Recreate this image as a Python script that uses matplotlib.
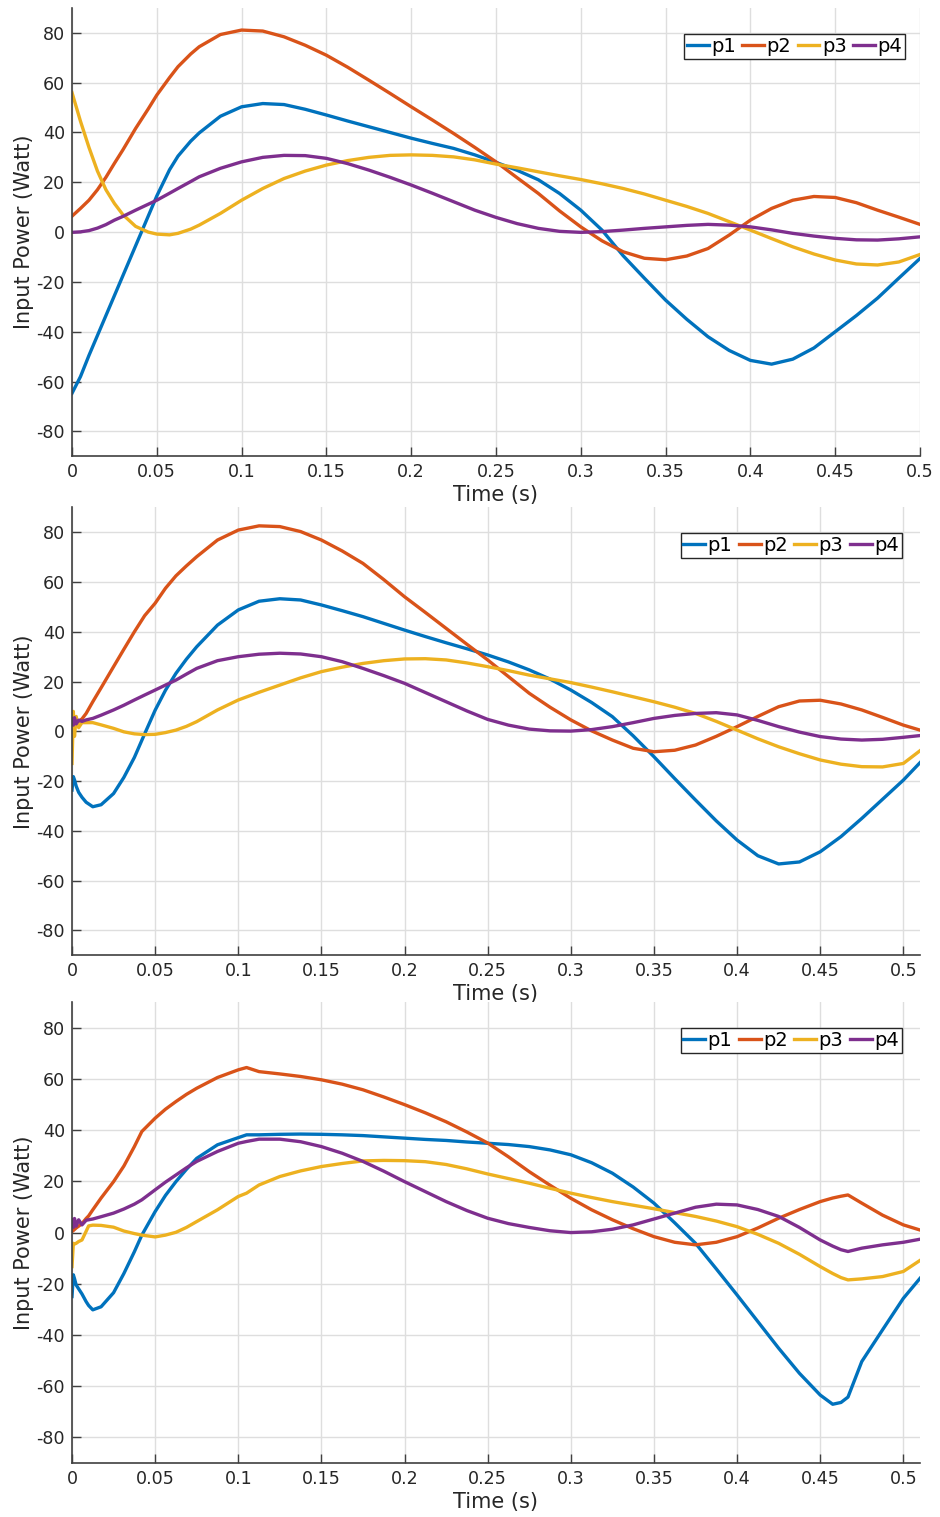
import numpy as np
import matplotlib
matplotlib.use('Agg')
import matplotlib.pyplot as plt
from matplotlib.ticker import FuncFormatter

plt.rcParams['font.family'] = ['DejaVu Sans']
plt.rcParams['axes.unicode_minus'] = False

labels = ['p1', 'p2', 'p3', 'p4']
colors = ['#0072BD', '#D95319', '#EDB120', '#7E2F8E']

# ---- plot 1 ----
t1 = [0, 0.005, 0.01, 0.015, 0.02, 0.025, 0.03, 0.0375, 0.045, 0.05, 0.0575, 0.0625, 0.07, 0.075,
      0.0875, 0.1, 0.1125, 0.125, 0.1375, 0.15, 0.1625, 0.175, 0.1875, 0.2, 0.2125, 0.225, 0.2375,
      0.25, 0.2625, 0.275, 0.2875, 0.3, 0.3125, 0.325, 0.3375, 0.35, 0.3625, 0.375, 0.3875, 0.4,
      0.4125, 0.425, 0.4375, 0.45, 0.4625, 0.475, 0.4875, 0.5]
p1_a = [-64.7, -58, -49.5, -41.5, -33.5, -25.5, -17.5, -5.5, 6.5, 14.5, 25, 30.5, 36.5, 39.8,
        46.5, 50.3, 51.6, 51.2, 49.3, 47, 44.6, 42.3, 40, 37.7, 35.6, 33.6, 31,
        28, 24.8, 21, 15.5, 8.8, 0.8, -9.5, -18.5, -27.3, -35, -42, -47.5, -51.5,
        -53, -51, -46.5, -40, -33.5, -26.5, -18.5, -10.6]
p2_a = [6.4, 9.5, 12.8, 17, 22, 27.6, 33, 41.6, 49.5, 55, 62, 66.4, 71.5, 74.4,
        79.3, 81.1, 80.7, 78.4, 75, 71, 66.2, 61, 55.7, 50.3, 45, 39.6, 34,
        28.2, 21.8, 15.5, 8.5, 2.1, -3.5, -7.9, -10.5, -11.1, -9.6, -6.6, -1.2, 4.8,
        9.5, 12.8, 14.3, 13.9, 11.8, 8.8, 6, 3.1]
p3_a = [56, 44.5, 34, 24.5, 17, 11.5, 7, 2.3, 0, -0.8, -1.1, -0.5, 1.2, 2.8,
        7.5, 12.8, 17.5, 21.5, 24.5, 26.9, 28.7, 30, 30.8, 31, 30.8, 30.2, 29,
        27.3, 25.8, 24.2, 22.6, 21.1, 19.4, 17.5, 15.3, 12.8, 10.3, 7.5, 4.2, 0.8,
        -2.6, -5.9, -8.8, -11.2, -12.8, -13.2, -12, -9]
p4_a = [-0.1, 0.1, 0.6, 1.6, 3, 4.8, 6.3, 8.8, 11.2, 12.8, 15.6, 17.5, 20.3, 22.2,
        25.6, 28.2, 30, 30.8, 30.7, 29.6, 27.5, 24.9, 22, 18.9, 15.6, 12.2, 8.8,
        5.9, 3.4, 1.5, 0.3, -0.1, 0.2, 0.8, 1.5, 2.1, 2.7, 3.1, 2.8, 2.1,
        0.9, -0.5, -1.6, -2.5, -3.1, -3.2, -2.7, -1.9]

# ---- plot 2 ----
t2 = [0, 0.0008, 0.0015, 0.0025, 0.004, 0.006, 0.0085, 0.0125, 0.0175, 0.025, 0.0312, 0.0375,
      0.0437, 0.05, 0.0562, 0.0625, 0.0688, 0.075,
      0.0875, 0.1, 0.1125, 0.125, 0.1375, 0.15, 0.1625, 0.175, 0.1875, 0.2, 0.2125, 0.225, 0.2375,
      0.25, 0.2625, 0.275, 0.2875, 0.3, 0.3125, 0.325, 0.3375, 0.35, 0.3625, 0.375, 0.3875, 0.4,
      0.4125, 0.425, 0.4375, 0.45, 0.4625, 0.475, 0.4875, 0.5, 0.51]
p1_b = [-23.6, -18.2, -19.5, -22, -24.5, -26.5, -28.5, -30.3, -29.5, -25, -18.5, -10.5,
        -1, 8.5, 16.5, 23.3, 29, 34,
        42.7, 48.8, 52.3, 53.3, 52.8, 50.8, 48.5, 46.1, 43.4, 40.7, 38.1, 35.6, 33.2,
        30.7, 27.9, 24.7, 21, 16.6, 11.6, 5.9, -1.8, -10.2, -19, -27.6, -36, -43.7,
        -50, -53.3, -52.5, -48.4, -42.3, -35, -27.3, -19.6, -12.6]
p2_b = [1.9, 2.5, 3, 3.5, 4, 5, 7.2, 11.9, 17.5, 26, 33, 40,
        46.5, 51.5, 57.5, 62.5, 66.5, 70.2,
        76.9, 80.9, 82.6, 82.3, 80.3, 76.9, 72.5, 67.5, 61, 54.1, 47.8, 41.4, 35,
        28.7, 22, 15.3, 9.7, 4.6, 0.2, -3.5, -6.8, -8.2, -7.6, -5.5, -2, 1.9,
        6, 9.9, 12.2, 12.5, 11, 8.6, 5.6, 2.5, 0.5]
p3_b = [-12.9, 8, -2, 6, 1.5, 3.5, 3.5, 3.5, 2.6, 1.2, -0.2, -1,
        -1.3, -1.2, -0.5, 0.5, 2, 3.9,
        8.6, 12.6, 15.7, 18.6, 21.5, 24, 25.8, 27.3, 28.4, 29.1, 29.2, 28.7, 27.5,
        26, 24.4, 22.6, 21.1, 19.6, 17.8, 15.9, 13.9, 11.9, 9.7, 7.2, 4, 0.5,
        -3, -6.2, -9, -11.5, -13.2, -14.2, -14.3, -12.9, -7.8]
p4_b = [5, 2.5, 5.5, 3, 4.5, 4, 4.6, 5.2, 6.5, 8.6, 10.5, 12.6,
        14.6, 16.6, 18.6, 20.6, 23, 25.3,
        28.4, 30, 31, 31.4, 31.1, 30, 28, 25.3, 22.4, 19.3, 15.6, 11.9, 8.2,
        4.8, 2.5, 0.9, 0.2, 0.1, 0.7, 1.9, 3.5, 5.2, 6.4, 7.2, 7.5, 6.6,
        4.4, 1.9, -0.3, -2.1, -3.1, -3.5, -3.2, -2.4, -1.7]

# ---- plot 3 ----
t3 = [0, 0.0008, 0.0015, 0.0025, 0.004, 0.006, 0.0085, 0.01, 0.0125, 0.0175, 0.025, 0.0312,
      0.0375, 0.042, 0.05, 0.0562, 0.0625, 0.0688, 0.075, 0.0875, 0.1, 0.105, 0.1125,
      0.125, 0.1375, 0.15, 0.1625, 0.175, 0.1875, 0.2, 0.2125, 0.225, 0.2375, 0.25, 0.2625,
      0.275, 0.2875, 0.3, 0.3125, 0.325, 0.3375, 0.35, 0.3625, 0.375, 0.3875, 0.4, 0.4125,
      0.425, 0.4375, 0.45, 0.4575, 0.4625, 0.4667, 0.475, 0.4875, 0.5, 0.51]
p1_c = [-25, -16.5, -18, -20.5, -22, -24, -27, -28.5, -30.2, -29, -23.5, -16,
        -7.5, -1, 8.2, 14.5, 19.9, 24.7, 29, 34.3, 37.1, 38.2, 38.2,
        38.4, 38.5, 38.4, 38.2, 37.9, 37.4, 36.9, 36.4, 36, 35.4, 34.9, 34.4,
        33.6, 32.3, 30.4, 27.3, 23.2, 17.8, 11.5, 3.8, -4.2, -14.2, -24.4, -34.8,
        -45.2, -55, -63.5, -67.1, -66.4, -64.3, -50.4, -38, -25.7, -17.9]
p2_c = [0.4, 0.8, 1.2, 1.8, 2.5, 3.5, 5.5, 6.5, 8.9, 13.5, 19.9, 26,
        33.6, 39.5, 44.7, 48.2, 51.2, 54, 56.4, 60.6, 63.6, 64.5, 62.9,
        62, 61, 59.7, 58, 55.8, 53, 50, 46.8, 43.3, 39.3, 35, 29.6,
        23.8, 18.5, 13.4, 8.9, 5, 1.5, -1.6, -3.8, -4.8, -3.8, -1.6, 1.8,
        5.6, 9, 12.1, 13.5, 14.2, 14.7, 11.5, 6.8, 3, 1]
p3_c = [-13.3, -4.2, -4.5, -4.2, -3.5, -2.9, 0.5, 2.6, 2.9, 2.8, 2.1, 0.6,
        -0.4, -1, -1.7, -1, 0.1, 2, 4.3, 8.9, 14.1, 15.4, 18.6,
        21.9, 24.1, 25.8, 27, 28, 28.2, 28.1, 27.7, 26.6, 24.9, 22.9, 21.1,
        19.3, 17.3, 15.4, 13.7, 12.1, 10.7, 9.3, 7.8, 6.3, 4.5, 2.3, -0.7,
        -4.2, -8.5, -13.3, -16, -17.6, -18.5, -18.1, -17.2, -15.2, -10.9]
p4_c = [5, 2, 5.5, 2.5, 5, 3, 4.8, 5, 5.3, 6.2, 7.6, 9.2,
        11.1, 12.8, 16.7, 19.7, 22.5, 25.3, 27.8, 31.7, 34.9, 35.6, 36.5,
        36.5, 35.5, 33.6, 31, 27.8, 24, 19.9, 16, 12.1, 8.6, 5.6, 3.5,
        2, 0.7, 0, 0.3, 1.3, 3, 5.3, 7.6, 9.9, 11.1, 10.8, 9,
        6.3, 2, -2.9, -5.3, -6.7, -7.4, -6.1, -4.8, -3.8, -2.6]

panels = [
    (t1, [p1_a, p2_a, p3_a, p4_a], 0.5, [0.0766, 0.6992, 0.9021, 0.2956], (0.9823, 0.942)),
    (t2, [p1_b, p2_b, p3_b, p4_b], 0.51, [0.0766, 0.3703, 0.9021, 0.2952], (0.9784, 0.9435)),
    (t3, [p1_c, p2_c, p3_c, p4_c], 0.51, [0.0766, 0.0357, 0.9021, 0.3036], (0.9784, 0.9444)),
]

fig = plt.figure(figsize=(9.4, 15.17), dpi=100)

for t, series, xmax, pos, lpos in panels:
    ax = fig.add_axes(pos)
    for y, lab, c in zip(series, labels, colors):
        ax.plot(t, y, color=c, lw=2.4, label=lab, solid_joinstyle='round')
    ax.set_xlim(0, xmax)
    ax.set_ylim(-90, 90)
    ax.set_xticks(np.arange(0, 0.501, 0.05))
    ax.set_yticks(np.arange(-80, 81, 20))
    ax.xaxis.set_major_formatter(FuncFormatter(lambda v, p: f'{v:g}'))
    ax.grid(True, color='#dedede', lw=1)
    ax.set_axisbelow(True)
    for s in ['top', 'right']:
        ax.spines[s].set_visible(False)
    for s in ['left', 'bottom']:
        ax.spines[s].set_color('#404040')
        ax.spines[s].set_linewidth(1.2)
    ax.tick_params(direction='in', length=6.5, width=1, color='#404040',
                   labelsize=12.6, labelcolor='#262626', pad=5)
    ax.set_xlabel('Time (s)', fontsize=15, color='#262626', labelpad=3)
    ax.set_ylabel('Input Power (Watt)', fontsize=15, color='#262626', labelpad=2)
    leg = ax.legend(loc='upper right', bbox_to_anchor=lpos, ncol=4, fontsize=14,
                    handlelength=1.12, handletextpad=0.12, columnspacing=0.34,
                    borderpad=0.15, borderaxespad=0, fancybox=False, framealpha=1)
    leg.get_frame().set_edgecolor('#262626')
    leg.get_frame().set_linewidth(1)

fig.savefig('out.png', dpi=100)
